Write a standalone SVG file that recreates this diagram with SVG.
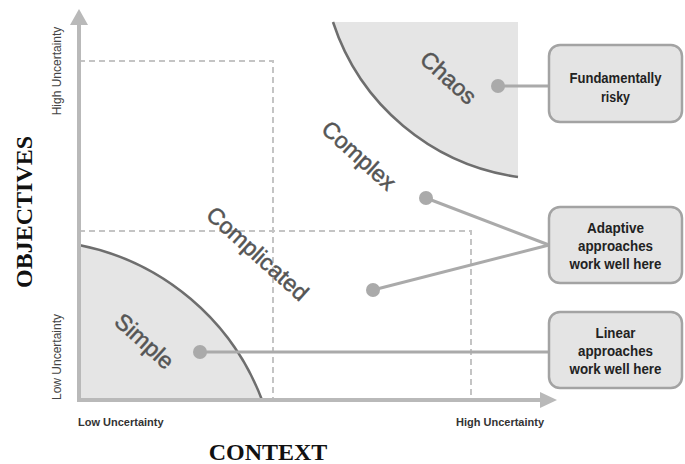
<svg xmlns="http://www.w3.org/2000/svg" width="685" height="464" viewBox="0 0 685 464">
<style>
.zone{fill:#e5e5e5;stroke:none}
.arc{fill:none;stroke:#6e6e6e;stroke-width:2.5}
.dash{fill:none;stroke:#c4c4c4;stroke-width:2;stroke-dasharray:6 4}
.axis{stroke:#b9b9b9;stroke-width:4;fill:none}
.head{fill:#b9b9b9}
.conn{stroke:#aaaaaa;stroke-width:3;fill:none}
.dot{fill:#aaaaaa}
.box{fill:#e4e4e4;stroke:#a3a3a3;stroke-width:2.5}
.btxt{font-family:"Liberation Sans",Arial,sans-serif;font-weight:bold;font-size:14.5px;fill:#222;text-anchor:middle}
.zlab{font-family:"Liberation Sans",Arial,sans-serif;font-size:23px;fill:#555;stroke:#555;stroke-width:0.5;text-anchor:middle}
.hax{font-family:"Liberation Sans",Arial,sans-serif;font-weight:bold;font-size:11px;fill:#333}
.vax{font-family:"Liberation Sans",Arial,sans-serif;font-size:12px;fill:#444;text-anchor:middle}
.title{font-family:"Liberation Serif","Times New Roman",serif;font-weight:bold;font-size:24px;fill:#111;text-anchor:middle}
</style>

<g id="zones">
<path class="zone" d="M333,22 A228,228 0 0 0 518,177 L518,22 Z"/>
<path class="arc" d="M333,22 A228,228 0 0 0 518,177"/>
<path class="zone" d="M79,245 A247,247 0 0 1 262,400 L79,400 Z"/>
<path class="arc" d="M79,245 A247,247 0 0 1 262,400"/>
</g>

<g id="dashed-regions">
<path class="dash" d="M79,61 H273 V400"/>
<path class="dash" d="M79,231 H471 V400"/>
</g>

<g id="axes">
<line class="axis" x1="79" y1="402" x2="79" y2="24"/>
<polygon class="head" points="70,25 79,9 88,25"/>
<line class="axis" x1="77" y1="400" x2="542" y2="400"/>
<polygon class="head" points="540,392 557,400 540,408"/>
<text class="vax" transform="translate(61,71) rotate(-90)">High Uncertainty</text>
<text class="vax" transform="translate(61,357) rotate(-90)">Low Uncertainty</text>
<text class="hax" x="78" y="426">Low Uncertainty</text>
<text class="hax" x="456" y="426">High Uncertainty</text>
<text class="title" transform="translate(32,212) rotate(-90)">OBJECTIVES</text>
<text class="title" x="268" y="460">CONTEXT</text>
</g>

<g id="zone-labels">
<text class="zlab" transform="translate(448.5,77.5) rotate(42)" y="8">Chaos</text>
<text class="zlab" transform="translate(359,155.5) rotate(42)" y="8">Complex</text>
<text class="zlab" transform="translate(257.5,253.5) rotate(42)" y="8">Complicated</text>
<text class="zlab" transform="translate(144.5,341) rotate(42)" y="8">Simple</text>
</g>

<g id="connectors">
<line class="conn" x1="498" y1="86" x2="549" y2="86"/>
<line class="conn" x1="426" y1="198" x2="549" y2="245"/>
<line class="conn" x1="373" y1="290" x2="549" y2="245"/>
<line class="conn" x1="200" y1="352" x2="549" y2="352"/>
<circle class="dot" cx="498" cy="86" r="7"/>
<circle class="dot" cx="426" cy="198" r="7"/>
<circle class="dot" cx="373" cy="290" r="7"/>
<circle class="dot" cx="200" cy="352" r="7"/>
</g>

<g id="node-risky">
<rect class="box" x="549" y="45" width="133" height="77" rx="11"/>
<text class="btxt" x="615.5" y="83" textLength="92" lengthAdjust="spacingAndGlyphs">Fundamentally</text>
<text class="btxt" x="615.5" y="102" textLength="29" lengthAdjust="spacingAndGlyphs">risky</text>
</g>

<g id="node-adaptive">
<rect class="box" x="549" y="207" width="133" height="76" rx="11"/>
<text class="btxt" x="615.5" y="233" textLength="57" lengthAdjust="spacingAndGlyphs">Adaptive</text>
<text class="btxt" x="615.5" y="251" textLength="75" lengthAdjust="spacingAndGlyphs">approaches</text>
<text class="btxt" x="615.5" y="269" textLength="92" lengthAdjust="spacingAndGlyphs">work well here</text>
</g>

<g id="node-linear">
<rect class="box" x="549" y="312" width="133" height="76" rx="11"/>
<text class="btxt" x="615.5" y="338" textLength="40" lengthAdjust="spacingAndGlyphs">Linear</text>
<text class="btxt" x="615.5" y="356" textLength="75" lengthAdjust="spacingAndGlyphs">approaches</text>
<text class="btxt" x="615.5" y="374" textLength="92" lengthAdjust="spacingAndGlyphs">work well here</text>
</g>
</svg>
